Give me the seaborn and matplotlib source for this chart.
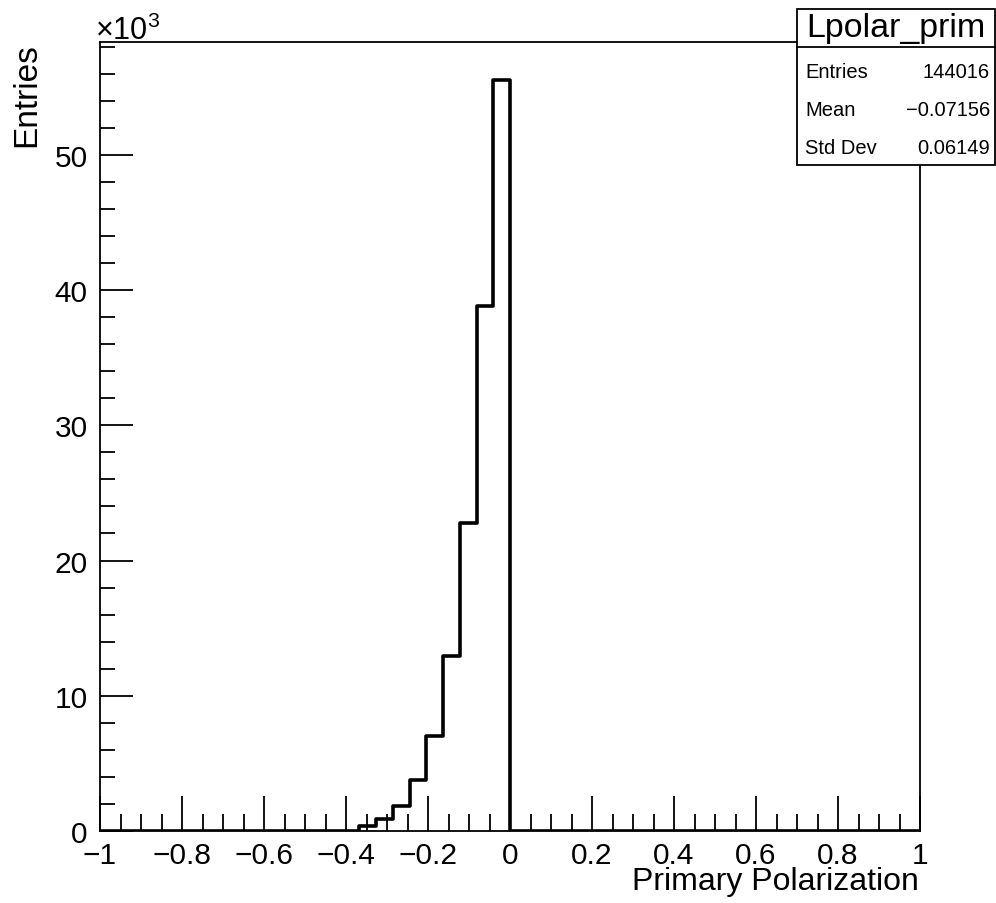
import numpy as np
import pandas as pd
import seaborn as sns
import matplotlib
matplotlib.use("Agg")
import matplotlib.pyplot as plt
from matplotlib.ticker import MultipleLocator, FuncFormatter, FixedLocator
from matplotlib.patches import Rectangle
from matplotlib.lines import Line2D

# ---- data ----
hist_name = "Lpolar_prim"
x_label = "Primary Polarization"
y_label = "Entries"
bin_width = 2.0 / 49
# counts of the non-empty bins, from the left-most (-9 bins) up to the bin ending at 0
counts = [350, 890, 1870, 3790, 7000, 12950, 22800, 38800, 55566]
stat_names = ["Entries", "Mean", "Std Dev"]
stat_values = ["144016", "\u22120.07156", "0.06149"]
x_ticks = [-1, -0.8, -0.6, -0.4, -0.2, 0, 0.2, 0.4, 0.6, 0.8, 1]
y_ticks_k = [0, 10, 20, 30, 40, 50]

sns.set_style("ticks")
plt.rcParams["font.family"] = ["Liberation Sans", "DejaVu Sans"]
plt.rcParams["mathtext.fontset"] = "custom"
plt.rcParams["mathtext.rm"] = "Liberation Sans"
plt.rcParams["mathtext.it"] = "Liberation Sans"
plt.rcParams["text.color"] = "black"
plt.rcParams["xtick.color"] = "black"
plt.rcParams["ytick.color"] = "black"
plt.rcParams["xtick.labelcolor"] = "black"
plt.rcParams["ytick.labelcolor"] = "black"

n = len(counts)
centers = [-(n - i - 0.5) * bin_width for i in range(n)]
df = pd.DataFrame({"x": centers, "w": counts})
inner_edges = bin_width * np.arange(-24, 25)
edges = [-1.0] + [float(e) for e in inner_edges] + [1.0]

fig = plt.figure(figsize=(9.96, 9.04), dpi=100)
ax = fig.add_axes([100 / 996, 72 / 904, 820 / 996, 789 / 904])

sns.histplot(data=df, x="x", weights="w", bins=edges, element="step",
             fill=False, color="black", linewidth=2.6, ax=ax, zorder=3)

ax.set_xlim(-1, 1)
ax.set_ylim(0, 1.05 * max(counts))

for s in ax.spines.values():
    s.set_linewidth(1.3)
    s.set_color("black")

ax.xaxis.set_major_locator(FixedLocator(x_ticks))
ax.xaxis.set_minor_locator(MultipleLocator(0.05))
ax.yaxis.set_major_locator(FixedLocator([v * 1000 for v in y_ticks_k]))
ax.yaxis.set_minor_locator(MultipleLocator(2000))

def fmt_x(v, pos):
    s = ("%g" % v)
    return s.replace("-", "\u2212")

ax.xaxis.set_major_formatter(FuncFormatter(fmt_x))
ax.yaxis.set_major_formatter(FuncFormatter(lambda v, p: "%g" % (v / 1000)))

ax.tick_params(axis="both", which="both", direction="in", top=False, right=False,
               color="black", width=1.3)
ax.tick_params(axis="x", which="major", length=25, labelsize=21.5, pad=7)
ax.tick_params(axis="x", which="minor", length=12)
ax.tick_params(axis="y", which="major", length=24, labelsize=21.5, pad=9)
ax.tick_params(axis="y", which="minor", length=11)

ax.set_xlabel("")
ax.set_ylabel("")
fig.text(919 / 996, 1 - 890 / 904, x_label, ha="right", va="baseline", fontsize=23)
fig.text(42 / 996, 1 - 43 / 904, y_label, ha="right", va="top", rotation=90, fontsize=24)

fig.text(95 / 996, 1 - 40 / 904, r"$\times10^{3}$", ha="left", va="baseline", fontsize=22)

# stats box
bx0, bx1 = 797 / 996, 995 / 996
by0, by1 = 1 - 166 / 904, 1 - 10 / 904
fig.patches.append(Rectangle((bx0, by0), bx1 - bx0, by1 - by0, transform=fig.transFigure,
                             facecolor="white", edgecolor="black", linewidth=1.3, zorder=5))
fig.lines.append(Line2D([bx0, bx1], [1 - 47.5 / 904] * 2, transform=fig.transFigure,
                        color="black", linewidth=1.3, zorder=6))
fig.text((bx0 + bx1) / 2, 1 - 29 / 904, hist_name, ha="center", va="center",
         fontsize=24.5, zorder=7)
for i, (nm, val) in enumerate(zip(stat_names, stat_values)):
    yy = 1 - (72 + 38 * i) / 904
    fig.text(805 / 996, yy, nm, ha="left", va="center", fontsize=14.5, zorder=7)
    fig.text(990 / 996, yy, val, ha="right", va="center", fontsize=14.5, zorder=7)

fig.savefig("out.png", dpi=100)
